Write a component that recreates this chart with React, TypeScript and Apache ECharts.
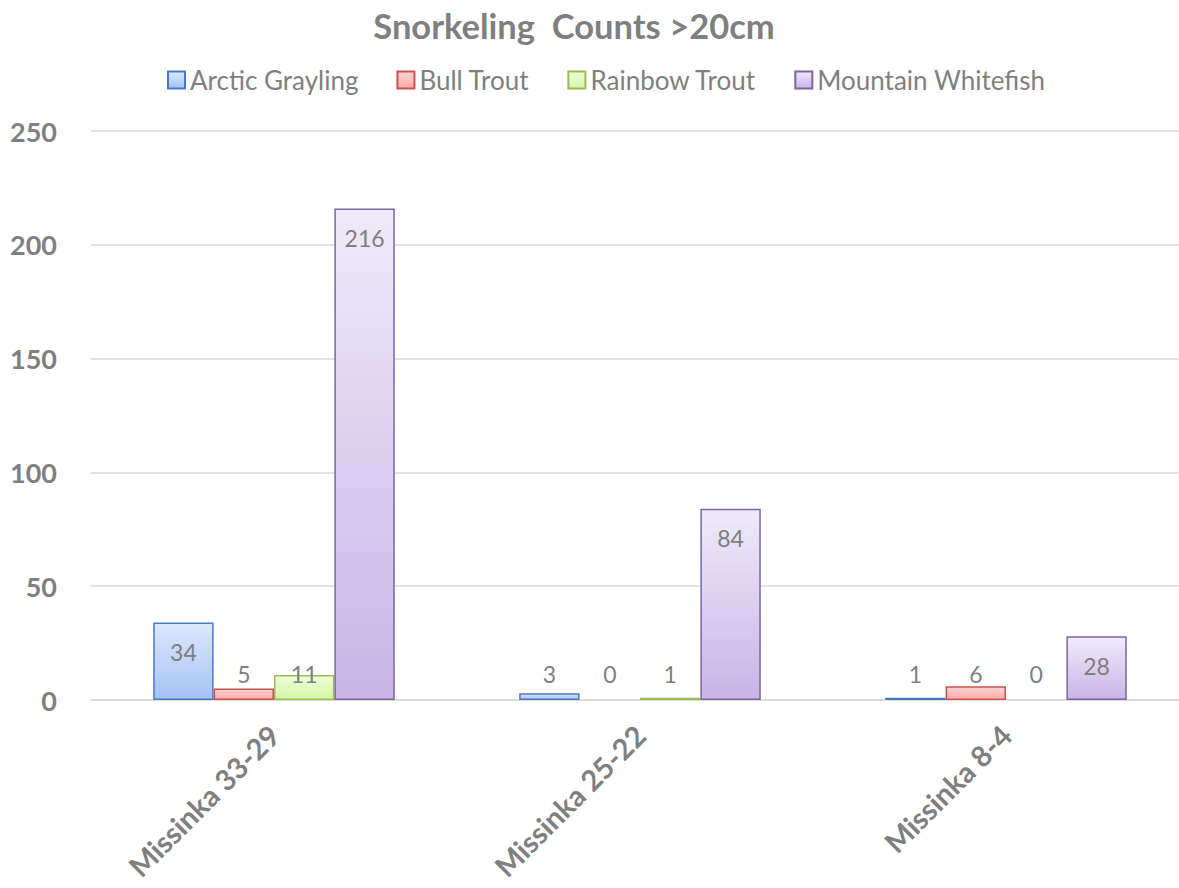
import React, { useEffect, useRef } from "react";
import * as echarts from "echarts";

const categories = ["Missinka 33-29", "Missinka 25-22", "Missinka 8-4"];
const seriesNames = ["Arctic Grayling", "Bull Trout", "Rainbow Trout", "Mountain Whitefish"];
const arcticGrayling = [34, 3, 1];
const bullTrout = [5, 0, 6];
const rainbowTrout = [11, 1, 0];
const mountainWhitefish = [216, 84, 28];
const yTicks = [0, 50, 100, 150, 200, 250];

const styles = [
  { top: "#dde8fc", bottom: "#a4c2f4", border: "#4a7ac6" },
  { top: "#ffd4d4", bottom: "#ffa9a9", border: "#c9514e" },
  { top: "#eeffdb", bottom: "#d3f6a6", border: "#9bbb59" },
  { top: "#efeafa", bottom: "#c8b4e6", border: "#8064a2" },
];

const FONT = "Lato, 'Noto Sans', sans-serif";
const TEXT = "#7f7f7f";

export default function App() {
  const ref = useRef<HTMLDivElement>(null);
  useEffect(() => {
    const chart = echarts.init(ref.current!, null, { renderer: "svg" });
    const all = [arcticGrayling, bullTrout, rainbowTrout, mountainWhitefish];
    const series = all.map((vals, i) => {
      const s = styles[i];
      return {
        name: seriesNames[i],
        type: "bar",
        barGap: "0%",
        barCategoryGap: "34%",
        itemStyle: {
          color: new echarts.graphic.LinearGradient(0, 0, 0, 1, [
            { offset: 0, color: s.top },
            { offset: 1, color: s.bottom },
          ]),
          borderColor: s.border,
          borderWidth: 1.5,
        },
        data: vals.map((v) => ({
          value: v,
          itemStyle: v === 0 ? { borderWidth: 0 } : undefined,
          label: {
            show: true,
            position: v >= 20 ? "insideTop" : "insideBottom",
            distance: v >= 20 ? 18 : 15,
            color: TEXT,
            fontSize: 23,
            fontFamily: FONT,
          },
        })),
      };
    });
    chart.setOption({
      animation: false,
      title: {
        text: "Snorkeling  Counts >20cm",
        left: 569,
        textAlign: "center",
        top: 3,
        textStyle: { fontSize: 34.5, fontWeight: "bold", color: TEXT, fontFamily: FONT },
      },
      legend: {
        top: 62,
        left: 162,
        itemWidth: 17,
        itemHeight: 17,
        itemGap: 38,
        icon: "rect",
        textStyle: { fontSize: 26, color: TEXT, fontFamily: FONT, padding: [0, 0, 0, 0] },
        data: seriesNames,
      },
      grid: { left: 91, top: 131, width: 1098, height: 569, containLabel: false },
      xAxis: {
        type: "category",
        data: categories,
        axisLine: { lineStyle: { color: "#d9d9d9", width: 1.5 } },
        axisTick: { show: false },
        axisLabel: {
          rotate: 45,
          margin: 30,
          fontSize: 29,
          fontWeight: "bold",
          color: TEXT,
          fontFamily: FONT,
          interval: 0,
        },
      },
      yAxis: {
        type: "value",
        min: 0,
        max: 250,
        interval: 50,
        axisLine: { show: false },
        axisTick: { show: false },
        splitLine: { lineStyle: { color: "#d9d9d9", width: 1.5 } },
        axisLabel: {
          margin: 34,
          fontSize: 27,
          fontWeight: "bold",
          color: TEXT,
          fontFamily: FONT,
          formatter: (v: number) => (yTicks.includes(v) ? String(v) : ""),
        },
      },
      series,
    });
    return () => chart.dispose();
  }, []);
  return (
    <div
      style={{ position: "fixed", left: 0, top: 0, width: 1179, height: 888, overflow: "hidden", background: "#fff" }}
    >
      <div ref={ref} style={{ width: 1200, height: 888 }} />
    </div>
  );
}
